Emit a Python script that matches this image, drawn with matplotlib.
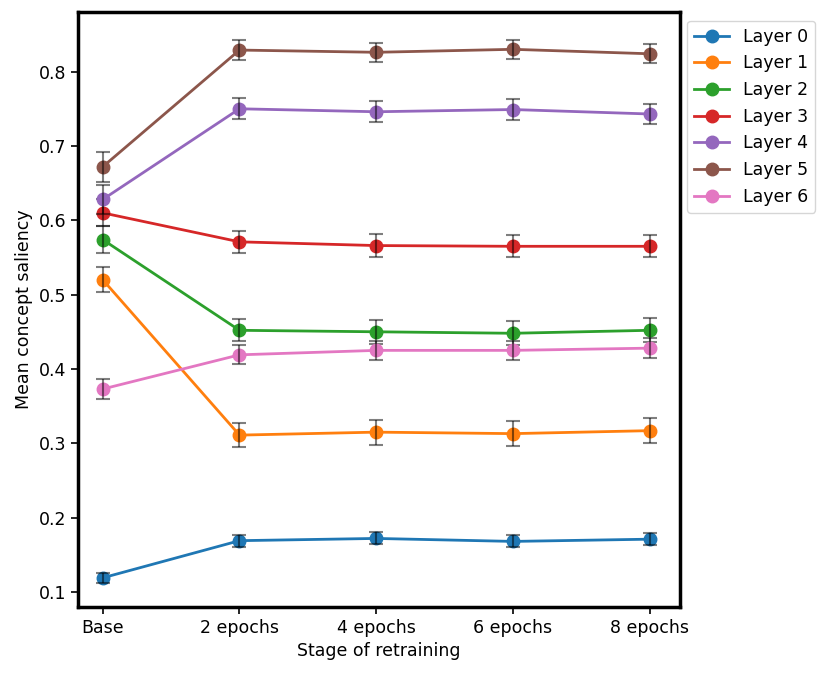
import numpy as np
import matplotlib.pyplot as plt

stages = ['Base', '2 epochs', '4 epochs', '6 epochs', '8 epochs']
layers = ['Layer 0', 'Layer 1', 'Layer 2', 'Layer 3', 'Layer 4', 'Layer 5', 'Layer 6']

means = [
    [0.119, 0.169, 0.172, 0.168, 0.171],
    [0.520, 0.311, 0.315, 0.313, 0.317],
    [0.574, 0.452, 0.450, 0.448, 0.452],
    [0.610, 0.571, 0.566, 0.565, 0.565],
    [0.628, 0.750, 0.746, 0.749, 0.743],
    [0.672, 0.829, 0.826, 0.830, 0.824],
    [0.373, 0.419, 0.425, 0.425, 0.428],
]
errs = [
    [0.007, 0.008, 0.008, 0.008, 0.008],
    [0.017, 0.016, 0.017, 0.017, 0.017],
    [0.018, 0.015, 0.016, 0.016, 0.016],
    [0.018, 0.015, 0.015, 0.015, 0.015],
    [0.020, 0.014, 0.014, 0.014, 0.014],
    [0.020, 0.013, 0.013, 0.013, 0.013],
    [0.014, 0.013, 0.013, 0.013, 0.013],
]

x = np.arange(len(stages))

fig = plt.figure(figsize=(8.31, 6.75), dpi=100)
ax = fig.add_axes([0.094, 0.101, 0.724, 0.881])

for i, name in enumerate(layers):
    ax.plot(x, means[i], '-o', color=f'C{i}', markersize=9, linewidth=2, label=name)
    ax.errorbar(x, means[i], yerr=errs[i], fmt='none', ecolor='black',
                alpha=0.5, capsize=5, elinewidth=1.5, capthick=1.5)

fs = 12.5
ax.set_xticks(x)
ax.set_xticklabels(stages, fontsize=fs)
ax.tick_params(axis='y', labelsize=fs)
ax.tick_params(length=5, width=1.2)
ax.set_yticks([0.1, 0.2, 0.3, 0.4, 0.5, 0.6, 0.7, 0.8])
ax.set_ylim(0.080, 0.880)
ax.set_xlim(-0.18, 4.22)
ax.set_xlabel('Stage of retraining', fontsize=fs)
ax.set_ylabel('Mean concept saliency', fontsize=fs)
for s in ax.spines.values():
    s.set_linewidth(2.5)

ax.legend(loc='upper left', bbox_to_anchor=(0.998, 1.0), fontsize=fs)

fig.savefig('out.png', dpi=100)
